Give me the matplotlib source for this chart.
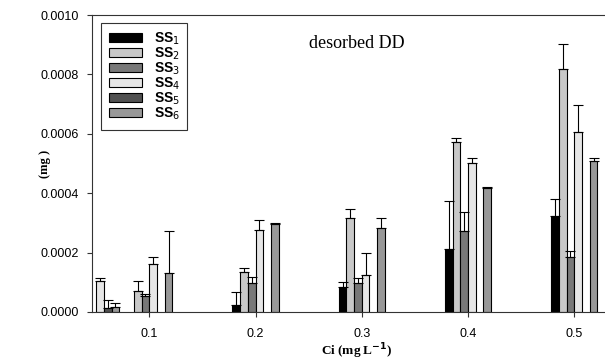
import numpy as np
import matplotlib
matplotlib.use('Agg')
import matplotlib.pyplot as plt
from matplotlib.patches import Patch

nan = np.nan

# concentrations (the 0.05 group sits just inside the left spine)
ci = [0.05, 0.1, 0.2, 0.3, 0.4, 0.5]
xtick_vals = [0.1, 0.2, 0.3, 0.4, 0.5]
xtick_labels = ['0.1', '0.2', '0.3', '0.4', '0.5']
ytick_vals = [0.0, 0.0002, 0.0004, 0.0006, 0.0008, 0.0010]

names = ['SS$_1$', 'SS$_2$', 'SS$_3$', 'SS$_4$', 'SS$_5$', 'SS$_6$']

ss1 = [nan, nan, 0.0000226, 0.0000845, 0.000212, 0.000323]
ss1_err = [nan, nan, 0.000045, 0.0000165, 0.000163, 0.000059]
ss2 = [nan, 0.00007, 0.000134, 0.000316, 0.000574, 0.000819]
ss2_err = [nan, 0.000035, 0.000015, 0.00003, 0.000012, 0.000085]
ss3 = [nan, 0.000055, 0.000098, 0.000098, 0.000273, 0.000185]
ss3_err = [nan, 0.000007, 0.00002, 0.000015, 0.000063, 0.000021]
ss4 = [0.000104, 0.000163, 0.000277, 0.000124, 0.000501, 0.000607]
ss4_err = [0.000009, 0.000023, 0.000033, 0.000076, 0.000018, 0.000091]
ss5 = [0.0000135, nan, nan, nan, nan, nan]
ss5_err = [0.000026, nan, nan, nan, nan, nan]
ss6 = [0.000018, 0.000132, 0.000296, 0.000282, 0.000419, 0.000509]
ss6_err = [0.000012, 0.000142, 0.000004, 0.000034, 0.000002, 0.000008]

series = [ss1, ss2, ss3, ss4, ss5, ss6]
errors = [ss1_err, ss2_err, ss3_err, ss4_err, ss5_err, ss6_err]
colors = ['#000000', '#c8c8c8', '#787878', '#e6e6e6', '#505050', '#989898']

fig = plt.figure(figsize=(6.05, 3.64), dpi=100)
ax = fig.add_axes([92 / 605, 1 - 312 / 364, 1 - 92 / 605, 297 / 364])

w = 0.00725
x = np.array(ci)
for i in range(6):
    pos = x + (i - 2.5) * w
    vals = np.array(series[i])
    err = np.array(errors[i])
    ax.bar(pos, vals, width=w, color=colors[i], edgecolor='black', linewidth=0.8, zorder=2)
    ax.errorbar(pos, vals, yerr=[np.zeros_like(err), err], fmt='none',
                ecolor='black', elinewidth=0.8, capsize=3.4, capthick=0.8, zorder=3)

ax.set_xlim(0.0461, 0.1 + (605 - 149.3) / 1062.5)
ax.set_ylim(0, 0.001)
ax.set_xticks(xtick_vals)
ax.set_xticklabels(xtick_labels, family='Liberation Sans', fontsize=9)
ax.set_yticks(ytick_vals)
ax.set_yticklabels(['%.4f' % v for v in ytick_vals], family='Liberation Sans', fontsize=9)
ax.tick_params(direction='out', length=3.5, width=0.8, color='#333333')
ax.tick_params(axis='x', pad=8)
ax.tick_params(axis='y', pad=6)
ax.spines['right'].set_visible(False)
for s in ['left', 'bottom', 'top']:
    ax.spines[s].set_color('#333333')
    ax.spines[s].set_linewidth(0.8)

ax.set_ylabel('(mg )', family='Liberation Serif', fontweight='bold', fontsize=9)
ax.yaxis.set_label_coords(-0.08, 0.5)
ax.set_xlabel('Ci (mg L$^{\\mathbf{-1}}$)', family='Liberation Serif', fontweight='bold', fontsize=9.5)
ax.xaxis.set_label_coords(0.516, -0.1)

ax.text(0.516, 0.905, 'desorbed DD', transform=ax.transAxes, ha='center', va='center',
        family='Liberation Serif', fontsize=13)

handles = [Patch(facecolor=c, edgecolor='black', linewidth=0.8) for c in colors]
leg = ax.legend(handles, names, loc='upper left', bbox_to_anchor=(9.5 / 513, 1 - 8 / 297),
                frameon=True, fancybox=False, edgecolor='#333333', framealpha=1,
                prop={'family': 'Liberation Sans', 'weight': 'bold', 'size': 10},
                handlelength=2.4, handleheight=0.6, labelspacing=-0.1,
                handletextpad=0.8, borderpad=0.55, borderaxespad=0)
leg.get_frame().set_linewidth(0.8)

fig.savefig('out.png', dpi=100)
